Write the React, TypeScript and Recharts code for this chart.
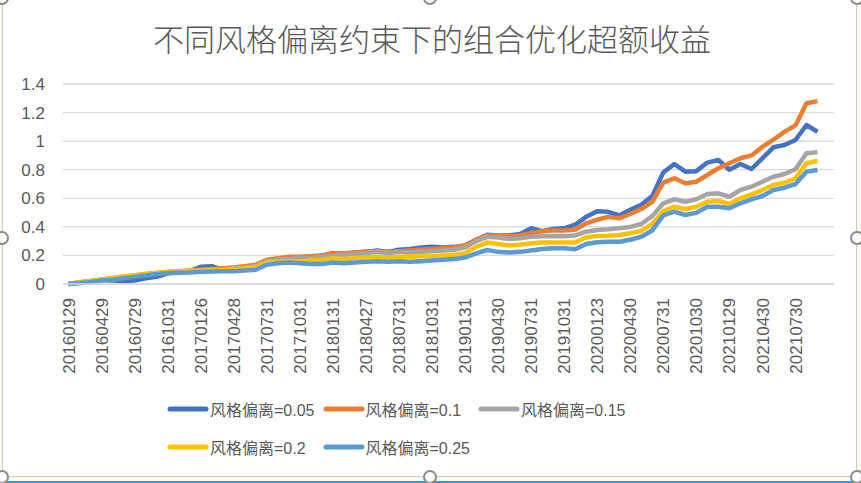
import React from 'react';
import { LineChart, Line, XAxis, YAxis, CartesianGrid } from 'recharts';

// month-end dates, the last one has no values yet
const dates = [
  '20160129', '20160229', '20160331', '20160429', '20160531', '20160630', '20160729', '20160831', '20160930', '20161031',
  '20161130', '20161230', '20170126', '20170228', '20170331', '20170428', '20170531', '20170630', '20170731', '20170831',
  '20170929', '20171031', '20171130', '20171229', '20180131', '20180228', '20180330', '20180427', '20180531', '20180629',
  '20180731', '20180831', '20180928', '20181031', '20181130', '20181228', '20190131', '20190228', '20190329', '20190430',
  '20190531', '20190628', '20190731', '20190830', '20190930', '20191031', '20191129', '20191231', '20200123', '20200228',
  '20200331', '20200430', '20200529', '20200630', '20200731', '20200831', '20200930', '20201030', '20201130', '20201231',
  '20210129', '20210226', '20210331', '20210430', '20210531', '20210630', '20210730', '20210831', '20210930', '20211029',
];

const tickLabels = [
  '20160129', '20160429', '20160729', '20161031', '20170126', '20170428', '20170731', '20171031', '20180131', '20180427',
  '20180731', '20181031', '20190131', '20190430', '20190731', '20191031', '20200123', '20200430', '20200731', '20201030',
  '20210129', '20210430', '20210730',
];

const yTicks = [0, 0.2, 0.4, 0.6, 0.8, 1, 1.2, 1.4];

const dev005 = [
  0, 0.01, 0.02, 0.03, 0.025, 0.02, 0.025, 0.04, 0.05, 0.075,
  0.085, 0.09, 0.12, 0.125, 0.1, 0.105, 0.11, 0.13, 0.165, 0.175,
  0.185, 0.185, 0.19, 0.2, 0.215, 0.21, 0.22, 0.225, 0.235, 0.225,
  0.24, 0.245, 0.255, 0.26, 0.255, 0.26, 0.27, 0.31, 0.345, 0.34,
  0.34, 0.35, 0.39, 0.37, 0.385, 0.39, 0.415, 0.47, 0.51, 0.505,
  0.48, 0.52, 0.555, 0.615, 0.78, 0.84, 0.786, 0.79, 0.85, 0.868,
  0.8, 0.84, 0.805, 0.88, 0.957, 0.973, 1.008, 1.113, 1.066, null,
];

const dev01 = [
  0, 0.01, 0.02, 0.03, 0.04, 0.05, 0.06, 0.07, 0.075, 0.085,
  0.09, 0.095, 0.1, 0.105, 0.11, 0.115, 0.125, 0.135, 0.17, 0.18,
  0.19, 0.19, 0.195, 0.2, 0.21, 0.215, 0.22, 0.225, 0.23, 0.225,
  0.23, 0.235, 0.24, 0.245, 0.25, 0.255, 0.27, 0.31, 0.34, 0.34,
  0.335, 0.34, 0.355, 0.37, 0.375, 0.375, 0.38, 0.425, 0.45, 0.47,
  0.46, 0.49, 0.525, 0.575, 0.71, 0.74, 0.705, 0.716, 0.763, 0.81,
  0.845, 0.88, 0.9, 0.96, 1.01, 1.065, 1.11, 1.265, 1.28, null,
];

const dev015 = [
  0, 0.01, 0.02, 0.03, 0.04, 0.05, 0.06, 0.065, 0.075, 0.08,
  0.085, 0.09, 0.095, 0.1, 0.1, 0.11, 0.115, 0.125, 0.16, 0.17,
  0.175, 0.18, 0.18, 0.19, 0.2, 0.205, 0.21, 0.215, 0.225, 0.215,
  0.225, 0.22, 0.225, 0.23, 0.235, 0.24, 0.255, 0.3, 0.33, 0.325,
  0.315, 0.32, 0.33, 0.335, 0.335, 0.335, 0.34, 0.366, 0.378, 0.383,
  0.39, 0.4, 0.42, 0.475, 0.565, 0.593, 0.576, 0.593, 0.63, 0.635,
  0.611, 0.658, 0.681, 0.716, 0.751, 0.77, 0.803, 0.915, 0.922, null,
];

const dev02 = [
  0, 0.012, 0.022, 0.032, 0.042, 0.052, 0.062, 0.07, 0.078, 0.085,
  0.088, 0.092, 0.095, 0.098, 0.1, 0.105, 0.11, 0.12, 0.15, 0.155,
  0.16, 0.16, 0.165, 0.17, 0.18, 0.175, 0.18, 0.185, 0.19, 0.185,
  0.19, 0.19, 0.195, 0.195, 0.2, 0.205, 0.215, 0.26, 0.29, 0.28,
  0.27, 0.275, 0.285, 0.29, 0.29, 0.29, 0.29, 0.327, 0.336, 0.338,
  0.343, 0.355, 0.372, 0.42, 0.51, 0.541, 0.523, 0.541, 0.576, 0.581,
  0.56, 0.6, 0.628, 0.658, 0.693, 0.709, 0.74, 0.845, 0.861, null,
];

const dev025 = [
  0, 0.005, 0.015, 0.025, 0.03, 0.04, 0.05, 0.06, 0.07, 0.075,
  0.078, 0.08, 0.085, 0.088, 0.09, 0.09, 0.095, 0.1, 0.135, 0.145,
  0.15, 0.145, 0.14, 0.14, 0.15, 0.145, 0.15, 0.155, 0.16, 0.155,
  0.16, 0.155, 0.16, 0.165, 0.17, 0.175, 0.185, 0.215, 0.238, 0.225,
  0.22, 0.225, 0.235, 0.245, 0.25, 0.25, 0.243, 0.28, 0.292, 0.296,
  0.296, 0.31, 0.331, 0.375, 0.48, 0.506, 0.483, 0.499, 0.541, 0.541,
  0.53, 0.565, 0.593, 0.616, 0.658, 0.674, 0.7, 0.786, 0.798, null,
];

const series = [
  { key: 'dev005', name: '风格偏离=0.05', color: '#4472C4', values: dev005 },
  { key: 'dev01', name: '风格偏离=0.1', color: '#ED7D31', values: dev01 },
  { key: 'dev015', name: '风格偏离=0.15', color: '#A5A5A5', values: dev015 },
  { key: 'dev02', name: '风格偏离=0.2', color: '#FFC000', values: dev02 },
  { key: 'dev025', name: '风格偏离=0.25', color: '#5B9BD5', values: dev025 },
];

const data = dates.map((date, i) => {
  const row: Record<string, string | number | null> = { date };
  series.forEach((s) => { row[s.key] = s.values[i]; });
  return row;
});

const FONT = '"Liberation Sans", "Noto Sans CJK SC", sans-serif';
const TEXT = '#595959';

const DateTick = (props: any) => {
  const { x, y, payload } = props;
  return (
    <text transform={`translate(${x},${y + 6}) rotate(-90)`} textAnchor="end" dy="0.36em"
      fill={TEXT} fontSize={17} fontFamily={FONT}>
      {payload.value}
    </text>
  );
};

const handles: Array<[number, number]> = [
  [2, -2], [430, -2], [857, -2],
  [2, 238], [857, 238],
  [2, 477], [430, 477], [857, 477],
];

export default function App() {
  return (
    <div style={{ position: 'absolute', left: 0, top: 0, width: 861, height: 483, background: '#fdf8ec', overflow: 'hidden' }}>
      <div style={{ position: 'absolute', left: 2, top: -2, width: 855, height: 479, background: '#fff', border: '1px solid #c9c9c9', boxSizing: 'border-box' }} />
      <div style={{ position: 'absolute', left: 0, top: 481, width: 861, height: 2, background: '#3d94e6' }} />

      <div style={{ position: 'absolute', left: 0, top: 16, width: 864, textAlign: 'center', fontFamily: '"Noto Sans CJK SC", sans-serif', fontWeight: 300, fontSize: 31, color: TEXT, lineHeight: '44px' }}>
        不同风格偏离约束下的组合优化超额收益
      </div>

      <div style={{ position: 'absolute', left: 0, top: 0 }}>
        <LineChart width={861} height={483} data={data} margin={{ top: 84, right: 27, left: 0, bottom: 99 }}>
          <CartesianGrid vertical={false} stroke="#d9d9d9" strokeWidth={1.3} />
          <XAxis dataKey="date" ticks={tickLabels} interval={0} height={100} padding={{ left: 5.5, right: 5.5 }}
            tickLine={false} axisLine={{ stroke: '#d9d9d9', strokeWidth: 1.3 }} tick={<DateTick />} />
          <YAxis domain={[0, 1.4]} ticks={yTicks} width={63} tickLine={false} axisLine={false} tickMargin={12}
            tick={{ fill: TEXT, fontSize: 17, fontFamily: FONT }} />
          {series.map((s) => (
            <Line key={s.key} type="linear" dataKey={s.key} name={s.name} stroke={s.color} strokeWidth={4.5}
              dot={false} isAnimationActive={false} strokeLinejoin="round" />
          ))}
        </LineChart>
      </div>

      <div style={{ position: 'absolute', left: 167, top: 397, width: 470, display: 'flex', flexWrap: 'wrap', rowGap: 14 }}>
        {series.map((s) => (
          <div key={s.key} style={{ width: 155.5, height: 24, display: 'flex', alignItems: 'center' }}>
            <svg width={42} height={8} style={{ flex: 'none' }}>
              <line x1={3} y1={4} x2={39} y2={4} stroke={s.color} strokeWidth={5} strokeLinecap="round" />
            </svg>
            <span style={{ fontFamily: FONT, fontSize: 16, color: TEXT, whiteSpace: 'nowrap', marginLeft: 1 }}>{s.name}</span>
          </div>
        ))}
      </div>

      {handles.map(([hx, hy], i) => (
        <div key={i} style={{ position: 'absolute', left: hx - 7, top: hy - 7, width: 14, height: 14, borderRadius: 7, border: '2px solid #8c8c8c', background: '#fff', boxSizing: 'border-box' }} />
      ))}
    </div>
  );
}
